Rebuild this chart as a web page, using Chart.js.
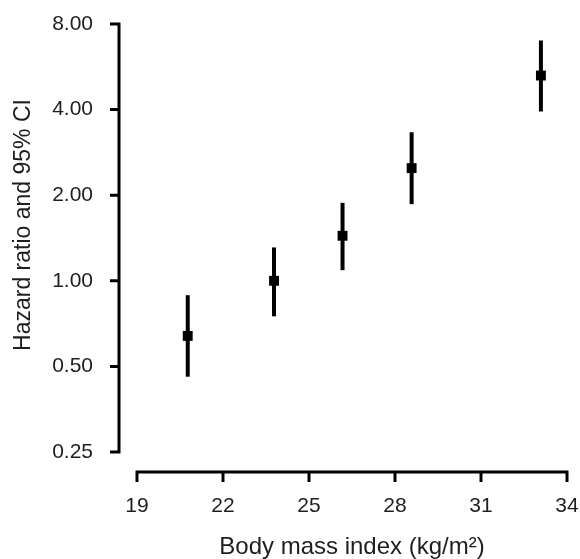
<!DOCTYPE html>
<html>
<head>
<meta charset="utf-8">
<script src="https://cdn.jsdelivr.net/npm/chart.js@4/dist/chart.umd.min.js"></script>
<style>
  body { margin: 0; background: #fff; }
  canvas { display: block; }
</style>
</head>
<body>
<canvas id="hrChart" width="580" height="559"></canvas>
<script>
// BMI category midpoints with hazard ratio and 95% CI
const bmi = [20.77, 23.78, 26.17, 28.58, 33.09];
const hazard = [0.64, 1.00, 1.44, 2.49, 5.27];
const ciLow = [0.46, 0.75, 1.09, 1.86, 3.94];
const ciHigh = [0.89, 1.31, 1.88, 3.33, 7.00];

const yTicks = [0.25, 0.5, 1, 2, 4, 8];
const xTicks = [19, 22, 25, 28, 31, 34];

const FONT = "'Liberation Sans', Arial, sans-serif";
const TEXT = '#1e1e1e';

// one short line dataset per confidence interval
const ciSets = bmi.map((x, i) => ({
    type: 'line',
    data: [{ x: x, y: ciLow[i] }, { x: x, y: ciHigh[i] }],
    borderColor: '#000',
    borderWidth: 4,
    borderCapStyle: 'butt',
    pointRadius: 0,
    fill: false
}));

// detached axis lines, drawn off the plot edge like the printed figure
const offsetAxes = {
    id: 'offsetAxes',
    afterDraw(chart) {
        const { ctx, scales: { x, y } } = chart;
        const ax = chart.chartArea.left - 18;
        const ay = chart.chartArea.bottom + 20;
        ctx.save();
        ctx.strokeStyle = '#000';
        ctx.lineWidth = 3;
        ctx.lineCap = 'butt';

        ctx.beginPath();
        ctx.moveTo(ax, y.getPixelForValue(yTicks[yTicks.length - 1]) - 1.5);
        ctx.lineTo(ax, y.getPixelForValue(yTicks[0]) + 1.5);
        yTicks.forEach(v => {
            const py = y.getPixelForValue(v);
            ctx.moveTo(ax + 1.5, py);
            ctx.lineTo(ax - 9, py);
        });
        ctx.stroke();

        ctx.beginPath();
        ctx.moveTo(x.getPixelForValue(xTicks[0]) - 1.5, ay);
        ctx.lineTo(x.getPixelForValue(xTicks[xTicks.length - 1]) + 1.5, ay);
        xTicks.forEach(v => {
            const px = x.getPixelForValue(v);
            ctx.moveTo(px, ay - 1.5);
            ctx.lineTo(px, ay + 10);
        });
        ctx.stroke();

        // vertical axis title
        ctx.translate(24, 225);
        ctx.rotate(-Math.PI / 2);
        ctx.fillStyle = TEXT;
        ctx.font = '23px ' + FONT;
        ctx.textAlign = 'center';
        ctx.textBaseline = 'middle';
        ctx.fillText('Hazard ratio and 95% CI', 0, 0);
        ctx.restore();
    }
};

new Chart(document.getElementById('hrChart'), {
    type: 'scatter',
    data: {
        datasets: [
            ...ciSets,
            {
                type: 'scatter',
                data: bmi.map((x, i) => ({ x: x, y: hazard[i] })),
                pointStyle: 'rect',
                pointRadius: 7,
                borderWidth: 0,
                backgroundColor: '#000'
            }
        ]
    },
    options: {
        responsive: false,
        animation: false,
        layout: { padding: { top: 24, right: 13, left: 0, bottom: 0 } },
        plugins: { legend: { display: false }, tooltip: { enabled: false } },
        scales: {
            x: {
                type: 'linear',
                min: 19,
                max: 34,
                // fixed box; the big tick padding must not push the plot edges in
                afterFit: s => { s.height = 107; s.paddingLeft = 0; s.paddingRight = 0; },
                afterBuildTicks: s => { s.ticks = xTicks.map(v => ({ value: v })); },
                grid: { display: false, drawTicks: false },
                border: { display: false },
                ticks: { color: TEXT, font: { family: FONT, size: 21 }, padding: 42, maxRotation: 0 },
                title: {
                    display: true,
                    text: 'Body mass index (kg/m²)',
                    color: TEXT,
                    font: { family: FONT, size: 24, lineHeight: 1 },
                    padding: { top: 0, bottom: 0 }
                }
            },
            y: {
                type: 'logarithmic',
                min: 0.25,
                max: 8,
                afterFit: s => { s.width = 137; s.paddingTop = 0; s.paddingBottom = 0; },
                afterBuildTicks: s => { s.ticks = yTicks.map(v => ({ value: v })); },
                grid: { display: false, drawTicks: false },
                border: { display: false },
                ticks: {
                    color: TEXT,
                    font: { family: FONT, size: 21 },
                    padding: 44,
                    callback: v => Number(v).toFixed(2)
                }
            }
        }
    },
    plugins: [offsetAxes]
});
</script>
</body>
</html>
